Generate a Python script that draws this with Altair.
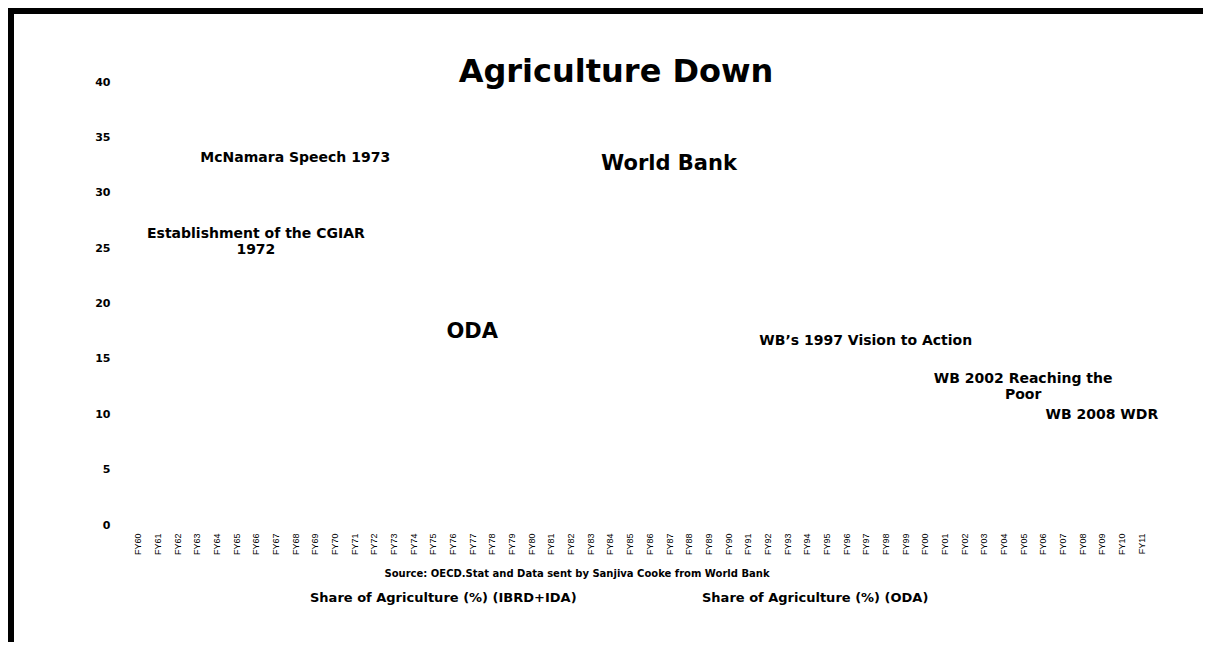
import altair as alt
import pandas as pd

# Fiscal-year categories on the x axis
fiscal_years = [
    "FY60", "FY61", "FY62", "FY63", "FY64", "FY65", "FY66", "FY67", "FY68", "FY69",
    "FY70", "FY71", "FY72", "FY73", "FY74", "FY75", "FY76", "FY77", "FY78", "FY79",
    "FY80", "FY81", "FY82", "FY83", "FY84", "FY85", "FY86", "FY87", "FY88", "FY89",
    "FY90", "FY91", "FY92", "FY93", "FY94", "FY95", "FY96", "FY97", "FY98", "FY99",
    "FY00", "FY01", "FY02", "FY03", "FY04", "FY05", "FY06", "FY07", "FY08", "FY09",
    "FY10", "FY11",
]
y_ticks = [0, 5, 10, 15, 20, 25, 30, 35, 40]

# Series shown in the legend (no data points are drawn in the reference)
series_names = ["Share of Agriculture (%) (IBRD+IDA)", "Share of Agriculture (%) (ODA)"]
series_fy = []
series_name_col = []
series_value = []

# Chart title, placed on the chart like the other text boxes
title_text = ["Agriculture Down"]
title_fy = ["FY84"]
title_y = [40.9]

# Annotations (text, anchor fiscal year, y value of first line)
note_text = [
    "McNamara Speech 1973",
    "Establishment of the CGIAR\n1972",
    "WB\u2019s 1997 Vision to Action",
    "WB 2002 Reaching the\nPoor",
    "WB 2008 WDR",
]
note_fy = ["FY68", "FY66", "FY97", "FY05", "FY09"]
note_y = [33.1, 26.3, 16.6, 13.2, 9.95]

big_text = ["World Bank", "ODA"]
big_fy = ["FY87", "FY77"]
big_y = [32.6, 17.45]

FONT = "DejaVu Sans"

notes = pd.DataFrame({"label": note_text, "fy": note_fy, "val": note_y})
bigs = pd.DataFrame({"label": big_text, "fy": big_fy, "val": big_y})
titles = pd.DataFrame({"label": title_text, "fy": title_fy, "val": title_y})
series_df = pd.DataFrame({"fy": series_fy, "series": series_name_col, "val": series_value})

x_scale = alt.Scale(domain=fiscal_years, paddingInner=0, paddingOuter=0)
y_scale = alt.Scale(domain=[0, 40], nice=False)

x_axis = alt.Axis(
    title="Source: OECD.Stat and Data sent by Sanjiva Cooke from World Bank",
    titleFont=FONT, titleFontWeight="bold", titleFontSize=10,
    titleAnchor="start", titleAlign="left", titleX=256, titleY=48,
    titleBaseline="middle",
    labelAngle=270, labelFont="Liberation Sans", labelFontSize=9,
    labelPadding=8, domain=False, ticks=False, grid=False,
)
y_axis = alt.Axis(
    title=None, values=y_ticks, labelFont=FONT, labelFontWeight="bold",
    labelFontSize=11, labelPadding=18, domain=False, ticks=False, grid=False,
)

X = alt.X("fy:N", scale=x_scale, axis=x_axis)
Y = alt.Y("val:Q", scale=y_scale, axis=y_axis)

series_layer = alt.Chart(series_df).mark_line(opacity=0).encode(
    x=X,
    y=Y,
    color=alt.Color(
        "series:N",
        scale=alt.Scale(domain=series_names, range=["#4472c4", "#c0504d"]),
        legend=alt.Legend(
            title=None, orient="none", legendX=169, legendY=509,
            direction="horizontal", columns=2, columnPadding=112,
            symbolSize=0, symbolStrokeWidth=0, symbolOpacity=0, labelOffset=0,
            padding=0, labelFont=FONT, labelFontWeight="bold", labelFontSize=13,
            labelLimit=400,
        ),
    ),
)

notes_layer = alt.Chart(notes).mark_text(
    font=FONT, fontWeight="bold", fontSize=14, lineHeight=16,
    align="center", baseline="middle", lineBreak="\n", color="black",
).encode(x=X, y=Y, text="label:N")

big_layer = alt.Chart(bigs).mark_text(
    font=FONT, fontWeight="bold", fontSize=21,
    align="center", baseline="middle", color="black",
).encode(x=X, y=Y, text="label:N")

title_layer = alt.Chart(titles).mark_text(
    font=FONT, fontWeight="bold", fontSize=32, dx=6,
    align="center", baseline="middle", color="black",
).encode(x=X, y=Y, text="label:N")

frame_top = alt.Chart(notes).mark_rule(color="black", strokeWidth=6).encode(
    x=alt.value(-120), x2=alt.value(1075), y=alt.value(-71),
)
frame_left = alt.Chart(notes).mark_rule(color="black", strokeWidth=6).encode(
    x=alt.value(-117), y=alt.value(-74), y2=alt.value(560),
)

chart = alt.layer(
    series_layer, notes_layer, big_layer, title_layer, frame_top, frame_left
).properties(
    width=1023,
    height=443,
    autosize=alt.AutoSizeParams(type="none"),
    padding={"left": 120, "top": 74, "right": 52, "bottom": 117},
).configure_view(strokeWidth=0)

chart.save("out.html", embed_options={"renderer": "svg", "actions": False})
